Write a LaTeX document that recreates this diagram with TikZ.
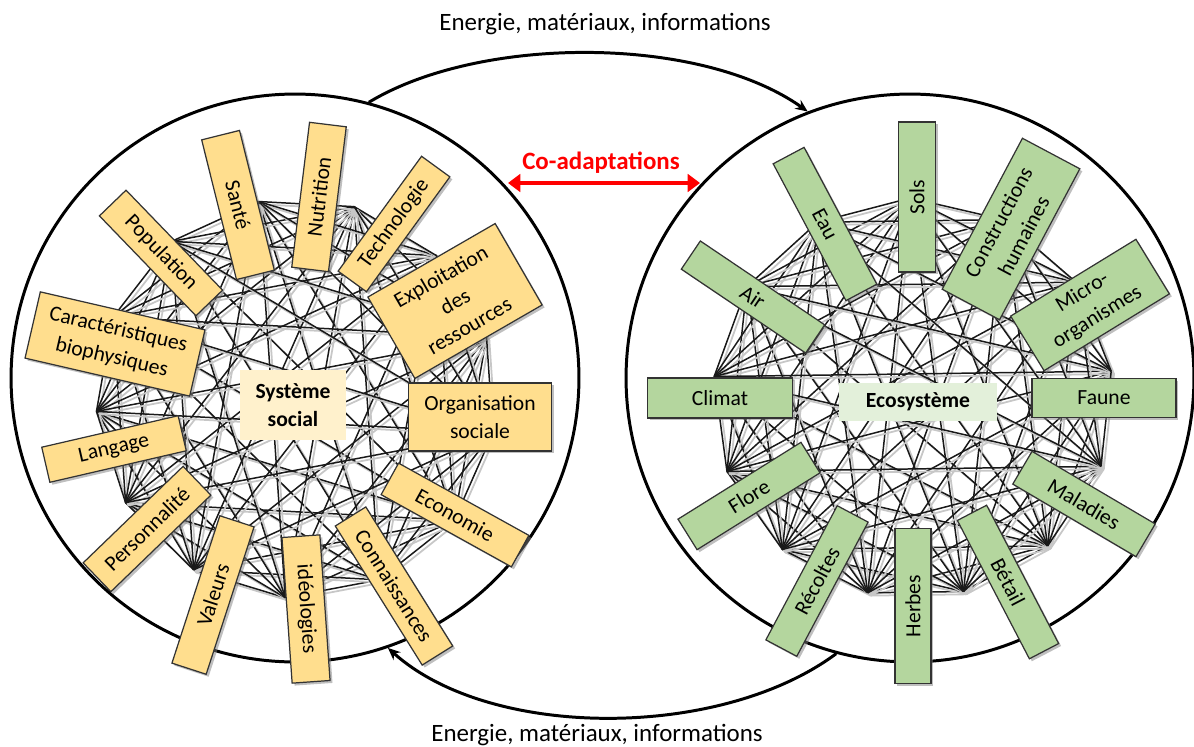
\documentclass[tikz,border=0pt]{standalone}
\usepackage{fontspec}
\setmainfont{Carlito}
\usepackage{tikz}
\usetikzlibrary{arrows.meta, calc, shadows}
\definecolor{socfill}{HTML}{FFDE8E}
\definecolor{socpale}{HTML}{FFF1CC}
\definecolor{ecofill}{HTML}{B4D69E}
\definecolor{ecopale}{HTML}{E3F0DA}
\definecolor{coadapt}{HTML}{FF0000}

\newcommand{\boxfont}{\fontsize{12.3}{16.2}\selectfont}
\newcommand{\flowfont}{\fontsize{14.2}{17}\selectfont}

\begin{document}
\begin{tikzpicture}[x=0.02cm, y=-0.02cm,
    system/.style={circle, draw=black, line width=1.7pt, minimum size=11.36cm, inner sep=0pt},
    socbox/.style={rectangle, draw=black!80, line width=0.7pt, fill=socfill, font=\boxfont, align=center, inner sep=1pt,
        drop shadow={shadow xshift=1.4pt, shadow yshift=-1.4pt, fill=black!50, opacity=0.5}},
    ecobox/.style={socbox, fill=ecofill},
    core/.style={rectangle, font=\boxfont\bfseries, align=center, inner sep=2pt},
    web/.style={draw=black!90, line width=0.85pt},
    webshadow/.style={draw=black!22, line width=1pt},
    flow/.style={-{Stealth[length=7pt, width=6pt]}, line width=1.7pt},
    coarrow/.style={{Triangle[length=7pt, width=10pt]}-{Triangle[length=7pt, width=10pt]}, line width=2.8pt, color=coadapt},
    flowlabel/.style={font=\flowfont}
]

\useasboundingbox (0,0) rectangle (1194,747);

\node[system] (soc) at (295,378) {};
\node[system] (eco) at (910,378) {};

% web of interactions
\coordinate (wsoc) at (296,398);
\coordinate (weco) at (913,398);
\foreach \i in {1,...,13} {
    \coordinate (s\i) at ($(wsoc)+(\i*360/13+10:200)$);
    \coordinate (e\i) at ($(weco)+(\i*360/13+20:200)$);
}
\foreach \i in {1,...,12} {
    \pgfmathtruncatemacro{\k}{\i+1}
    \foreach \j in {\k,...,13} {
        \draw[webshadow, transform canvas={xshift=1.6pt, yshift=-1.6pt}] (s\i) -- (s\j);
        \draw[webshadow, transform canvas={xshift=1.6pt, yshift=-1.6pt}] (e\i) -- (e\j);
        \draw[web] (s\i) -- (s\j);
        \draw[web] (e\i) -- (e\j);
    }
}

% social system
\node[socbox, rotate=-76, minimum width=2.88cm, minimum height=0.78cm] (sante) at (238,205) {Santé};
\node[socbox, rotate=83, minimum width=2.92cm, minimum height=0.74cm] (nutrition) at (319,197) {Nutrition};
\node[socbox, rotate=54, minimum width=2.84cm, minimum height=0.70cm] (techno) at (394,224) {Technologie};
\node[socbox, rotate=30, minimum width=2.94cm, minimum height=1.88cm] (exploit) at (455,301) {Exploitation\\des\\ressources};
\node[socbox, minimum width=2.86cm, minimum height=1.36cm] (orga) at (480,417) {Organisation\\sociale};
\node[socbox, rotate=-29, minimum width=2.98cm, minimum height=0.72cm] (economie) at (455,515) {Economie};
\node[socbox, rotate=-58, minimum width=3.28cm, minimum height=0.72cm] (connais) at (394,586) {Connaissances};
\node[socbox, rotate=-86, minimum width=2.92cm, minimum height=0.76cm] (ideo) at (306,609) {idéologies};
\node[socbox, rotate=72, minimum width=3.10cm, minimum height=0.72cm] (valeurs) at (213,595) {Valeurs};
\node[socbox, rotate=44, minimum width=2.78cm, minimum height=0.80cm] (perso) at (147,529) {Personnalité};
\node[socbox, rotate=13, minimum width=2.80cm, minimum height=0.72cm] (langage) at (114,449) {Langage};
\node[socbox, rotate=-13, minimum width=3.38cm, minimum height=1.36cm] (caract) at (115,344) {Caractéristiques\\biophysiques};
\node[socbox, rotate=-46, minimum width=2.78cm, minimum height=0.74cm] (popu) at (161,253) {Population};
\node[core, fill=socpale, minimum width=2.12cm, minimum height=1.4cm] (socname) at (293,405) {Système\\social};

% ecosystem
\node[ecobox, rotate=90, minimum width=3.00cm, minimum height=0.75cm] (sols) at (917,197) {Sols};
\node[ecobox, rotate=-62, minimum width=3.10cm, minimum height=0.70cm] (eau) at (825,224) {Eau};
\node[ecobox, rotate=62, minimum width=3.42cm, minimum height=1.30cm] (constr) at (1011,229) {Constructions\\humaines};
\node[ecobox, rotate=31.5, minimum width=2.94cm, minimum height=1.28cm] (micro) at (1090,305) {Micro-\\organismes};
\node[ecobox, minimum width=2.88cm, minimum height=0.78cm] (faune) at (1104,398) {Faune};
\node[ecobox, rotate=-30.5, minimum width=2.86cm, minimum height=0.76cm] (maladies) at (1084,504) {Maladies};
\node[ecobox, rotate=-62.5, minimum width=3.12cm, minimum height=0.66cm] (betail) at (1008,582) {Bétail};
\node[ecobox, rotate=90, minimum width=3.10cm, minimum height=0.72cm] (herbes) at (913,606) {Herbes};
\node[ecobox, rotate=62, minimum width=3.04cm, minimum height=0.70cm] (recoltes) at (817,581) {Récoltes};
\node[ecobox, rotate=32, minimum width=2.90cm, minimum height=0.72cm] (flore) at (749,496) {Flore};
\node[ecobox, minimum width=2.90cm, minimum height=0.80cm] (climat) at (720,398) {Climat};
\node[ecobox, rotate=-34, minimum width=3.00cm, minimum height=0.68cm] (air) at (753,297) {Air};
\node[core, fill=ecopale, minimum width=3.18cm, minimum height=0.76cm] (econame) at (918,402) {Ecosystème};

% exchanges
\draw[flow] (soc.75) .. controls (480,35) and (700,35) .. (eco.111);
\draw[flow] (eco.255) .. controls (720,740) and (490,740) .. (soc.289);
\node[flowlabel] (topflow) at (605,24) {Energie, matériaux, informations};
\node[flowlabel] (botflow) at (597,735) {Energie, matériaux, informations};

\node[font=\flowfont\bfseries, text=coadapt] (coname) at (601,163) {Co-adaptations};
\coordinate (coL) at (508,183);
\coordinate (coR) at (700,183);
\draw[coarrow] (coL) -- (coR);

\end{tikzpicture}
\end{document}
